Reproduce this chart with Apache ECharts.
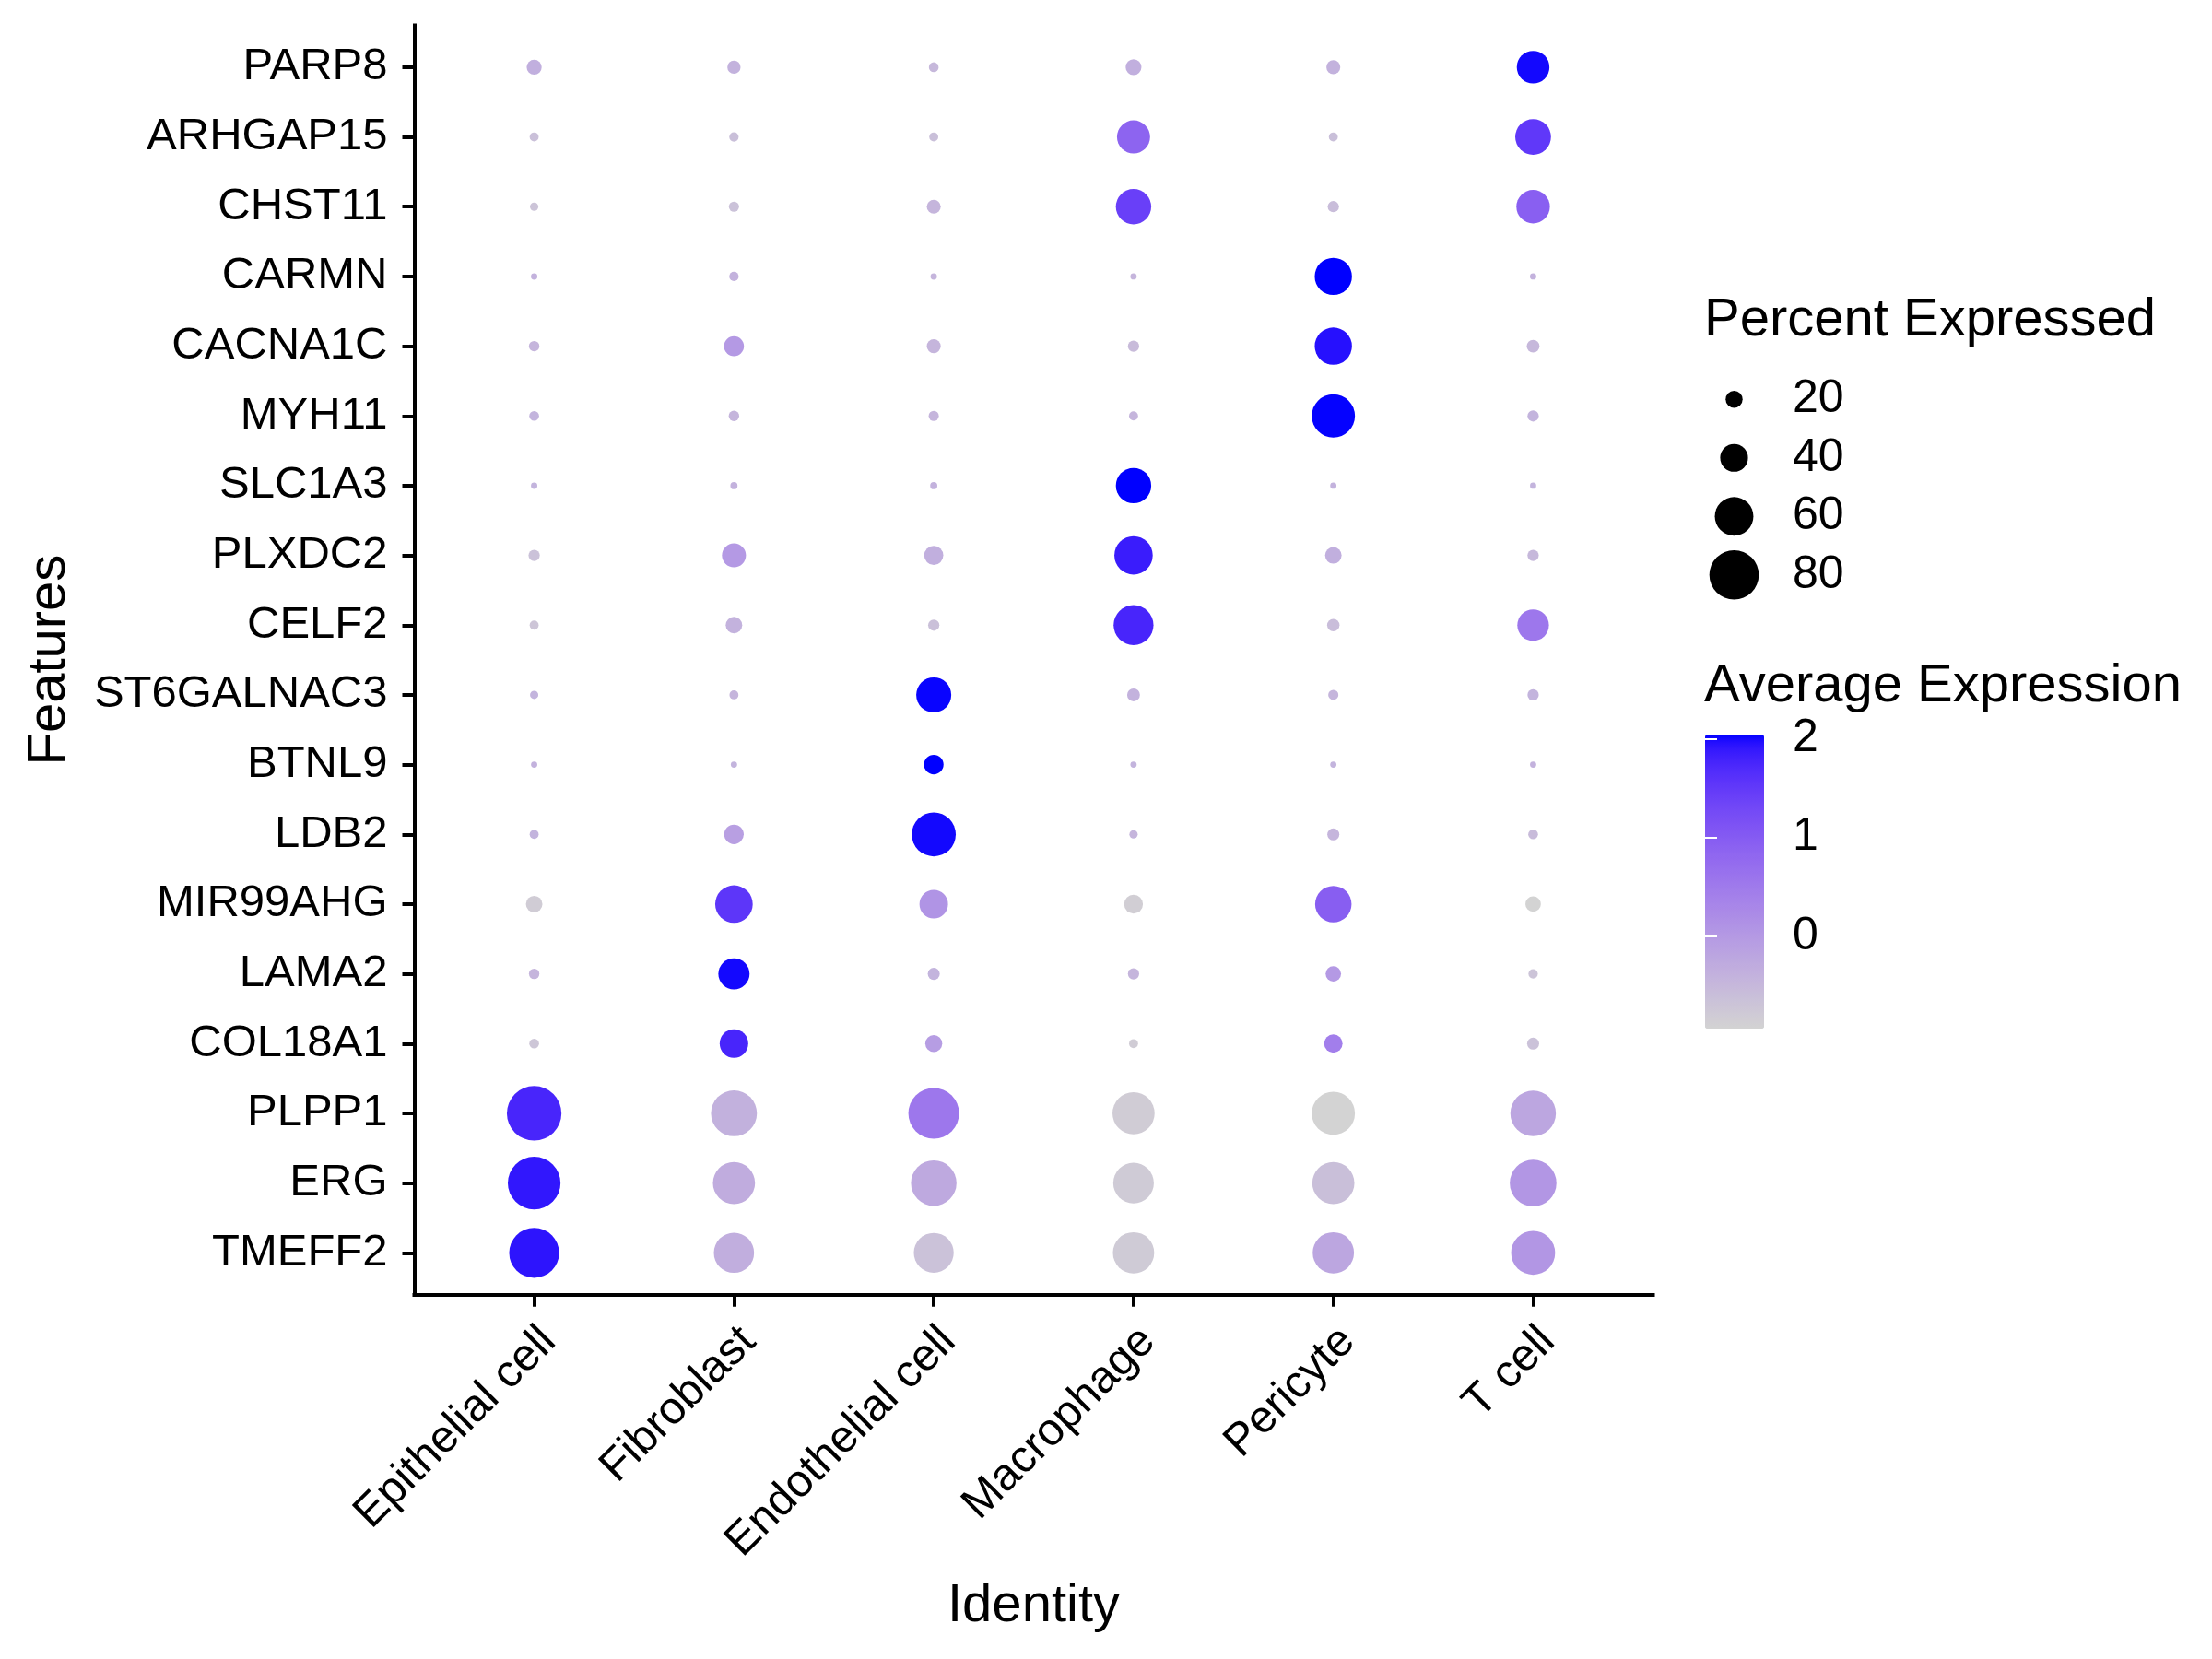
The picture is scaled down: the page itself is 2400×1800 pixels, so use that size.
<!DOCTYPE html>
<html>
<head>
<meta charset="utf-8">
<script src="https://cdn.jsdelivr.net/npm/echarts@6/dist/echarts.min.js"></script>
<style>html,body{margin:0;padding:0;background:#fff}#c{width:2400px;height:1800px}</style>
</head>
<body>
<div id="c"></div>
<script>
// ---------------- data ----------------
const cellTypes = ['Epithelial cell', 'Fibroblast', 'Endothelial cell', 'Macrophage', 'Pericyte', 'T cell'];
const genes = ['PARP8', 'ARHGAP15', 'CHST11', 'CARMN', 'CACNA1C', 'MYH11', 'SLC1A3', 'PLXDC2', 'CELF2',
  'ST6GALNAC3', 'BTNL9', 'LDB2', 'MIR99AHG', 'LAMA2', 'COL18A1', 'PLPP1', 'ERG', 'TMEFF2'];
// percent expressed, one row per gene, columns follow cellTypes
const pctExpressed = [
  [16.4, 13.0, 6.7, 17.8, 14.4, 49.0],
  [5.3, 6.0, 5.3, 49.8, 5.3, 54.7],
  [4.0, 7.4, 14.4, 54.0, 9.5, 50.5],
  [0.5, 6.0, 0.5, 0.3, 57.5, 0.3],
  [8.0, 25.5, 14.4, 9.5, 57.5, 12.3],
  [6.7, 8.0, 7.4, 5.3, 68.5, 9.5],
  [0.5, 1.9, 1.9, 54.0, 0.2, 0.2],
  [9.5, 33.0, 24.0, 59.6, 19.2, 9.5],
  [5.3, 19.2, 9.5, 62.4, 11.6, 47.0],
  [4.0, 5.3, 53.4, 12.3, 7.4, 9.5],
  [0.3, 0.3, 24.8, 0.3, 0.2, 0.2],
  [5.3, 24.8, 70.0, 4.0, 10.9, 6.7],
  [19.2, 58.0, 41.4, 23.4, 56.0, 17.2],
  [8.0, 46.4, 10.9, 9.5, 17.2, 6.0],
  [6.7, 41.4, 20.0, 5.3, 22.7, 10.9],
  [89.5, 73.5, 82.5, 66.5, 68.5, 72.8],
  [86.0, 66.5, 72.8, 63.7, 66.5, 74.9],
  [81.0, 63.0, 62.4, 65.0, 65.0, 70.0]
];
// scaled average expression, same layout
const avgExpScaled = [
  [-0.35, -0.40, -0.50, -0.35, -0.40, 2.00],
  [-0.62, -0.60, -0.60, 0.87, -0.60, 1.52],
  [-0.68, -0.65, -0.45, 1.42, -0.58, 0.94],
  [-0.40, -0.40, -0.45, -0.45, 2.04, -0.40],
  [-0.45, 0.00, -0.45, -0.55, 1.95, -0.50],
  [-0.42, -0.45, -0.45, -0.45, 2.03, -0.42],
  [-0.42, -0.40, -0.40, 2.04, -0.40, -0.42],
  [-0.65, 0.00, -0.35, 1.85, -0.35, -0.50],
  [-0.70, -0.40, -0.62, 1.75, -0.58, 0.55],
  [-0.42, -0.45, 2.02, -0.40, -0.45, -0.42],
  [-0.40, -0.42, 2.04, -0.42, -0.42, -0.40],
  [-0.42, -0.10, 2.00, -0.45, -0.45, -0.55],
  [-0.82, 1.55, 0.10, -0.85, 0.95, -0.93],
  [-0.45, 2.00, -0.42, -0.45, 0.00, -0.68],
  [-0.72, 1.75, -0.05, -0.82, 0.45, -0.65],
  [1.75, -0.38, 0.55, -0.82, -0.93, -0.20],
  [1.90, -0.30, -0.25, -0.80, -0.60, 0.05],
  [1.92, -0.33, -0.65, -0.80, -0.20, 0.06]
];
const sizeLegendValues = [20, 40, 60, 80];
const colorTicks = [0, 1, 2];
const colorLimits = [-0.93, 2.04];

// ---------------- styling helpers ----------------
const FONT = "'Liberation Sans', Arial, sans-serif";
function dotSize(pct) { return 6.67 + 0.587 * pct; }

// CIELAB interpolation lightgrey -> blue (as ggplot's gradient)
function s2l(c) { c /= 255; return c <= 0.04045 ? c / 12.92 : Math.pow((c + 0.055) / 1.055, 2.4); }
function l2s(c) { c = c <= 0.0031308 ? 12.92 * c : 1.055 * Math.pow(c, 1 / 2.4) - 0.055; return Math.round(Math.max(0, Math.min(1, c)) * 255); }
const WN = [0.95047, 1, 1.08883];
function rgb2lab(rgb) {
  const [r, g, b] = rgb.map(s2l);
  const X = 0.4124 * r + 0.3576 * g + 0.1805 * b;
  const Y = 0.2126 * r + 0.7152 * g + 0.0722 * b;
  const Z = 0.0193 * r + 0.1192 * g + 0.9505 * b;
  const f = t => t > 0.008856 ? Math.cbrt(t) : 7.787 * t + 16 / 116;
  const fx = f(X / WN[0]), fy = f(Y / WN[1]), fz = f(Z / WN[2]);
  return [116 * fy - 16, 500 * (fx - fy), 200 * (fy - fz)];
}
function lab2rgb(lab) {
  const fy = (lab[0] + 16) / 116, fx = fy + lab[1] / 500, fz = fy - lab[2] / 200;
  const fi = t => t > 0.206893 ? t * t * t : (t - 16 / 116) / 7.787;
  const X = WN[0] * fi(fx), Y = WN[1] * fi(fy), Z = WN[2] * fi(fz);
  const r = 3.2406 * X - 1.5372 * Y - 0.4986 * Z;
  const g = -0.9689 * X + 1.8758 * Y + 0.0415 * Z;
  const b = 0.0557 * X - 0.2040 * Y + 1.0570 * Z;
  return 'rgb(' + l2s(r) + ',' + l2s(g) + ',' + l2s(b) + ')';
}
const labLow = rgb2lab([211, 211, 211]), labHigh = rgb2lab([0, 0, 255]);
const gradientStops = [];
for (let k = 0; k <= 40; k++) {
  const t = k / 40;
  gradientStops.push(lab2rgb(labLow.map((v, i) => v + (labHigh[i] - v) * t)));
}

// ---------------- build series data ----------------
const dotData = [];
genes.forEach((g, i) => {
  cellTypes.forEach((c, j) => {
    dotData.push([j, i, pctExpressed[i][j], avgExpScaled[i][j]]);
  });
});
const sizeLegendData = sizeLegendValues.map((v, i) => [0, i, v]);
const idx = n => Array.from({ length: n }, (_, i) => i);

const chart = echarts.init(document.getElementById('c'), null, { renderer: 'canvas' });
const txt = { color: '#000', fontFamily: FONT };

chart.setOption({
  animation: false,
  backgroundColor: '#fff',
  textStyle: { fontFamily: FONT },
  title: [
    { text: 'Percent Expressed', left: 1849, top: 319, padding: 0,
      textStyle: Object.assign({ fontSize: 58, fontWeight: 'normal' }, txt) },
    { text: 'Average Expression', left: 1849, top: 716, padding: 0,
      textStyle: Object.assign({ fontSize: 58, fontWeight: 'normal' }, txt) }
  ],
  grid: [
    { left: 449.5, top: 27.5, width: 1344, height: 1377.2 },
    { left: 1850, top: 401.5, width: 63, height: 254 },
    { left: 1850, top: 797, width: 64, height: 319 }
  ],
  xAxis: [
    {
      gridIndex: 0, type: 'value', min: -0.6, max: 5.6,
      splitLine: { show: false },
      axisLine: { show: true, onZero: false, lineStyle: { color: '#000', width: 4, cap: 'square' } },
      axisTick: { show: true, customValues: idx(cellTypes.length), length: 13, lineStyle: { color: '#000', width: 4 } },
      axisLabel: {
        customValues: idx(cellTypes.length),
        formatter: v => cellTypes[Math.round(v)],
        rotate: 45, align: 'right', verticalAlign: 'top', margin: 9, padding: [11, 13, 0, 0],
        fontSize: 49, color: '#000', fontFamily: FONT
      },
      name: 'Identity', nameLocation: 'middle', nameGap: 309,
      nameTextStyle: { fontSize: 58, color: '#000', fontFamily: FONT }
    },
    { gridIndex: 1, type: 'value', min: -1, max: 1, show: false },
    { gridIndex: 2, type: 'value', min: 0, max: 1, show: false }
  ],
  yAxis: [
    {
      gridIndex: 0, type: 'value', min: -0.6, max: 17.6, inverse: true,
      splitLine: { show: false },
      axisLine: { show: true, onZero: false, lineStyle: { color: '#000', width: 4, cap: 'square' } },
      axisTick: { show: true, customValues: idx(genes.length), length: 13, lineStyle: { color: '#000', width: 4 } },
      axisLabel: {
        customValues: idx(genes.length),
        formatter: v => genes[Math.round(v)],
        margin: 29, padding: [4, 0, 0, 0], fontSize: 49, color: '#000', fontFamily: FONT
      },
      name: 'Features', nameLocation: 'middle', nameGap: 367,
      nameTextStyle: { fontSize: 58, color: '#000', fontFamily: FONT }
    },
    {
      gridIndex: 1, type: 'category', inverse: true, position: 'right',
      data: sizeLegendValues.map(String),
      axisLine: { show: false }, axisTick: { show: false }, splitLine: { show: false },
      axisLabel: { interval: 0, margin: 32, padding: [7, 0, 0, 0], fontSize: 50, color: '#000', fontFamily: FONT, align: 'left' }
    },
    {
      gridIndex: 2, type: 'value', min: colorLimits[0], max: colorLimits[1], position: 'right', z: 10,
      axisLine: { show: false }, splitLine: { show: false },
      axisTick: { show: true, inside: true, customValues: colorTicks, length: 13, lineStyle: { color: '#fff', width: 2 } },
      axisLabel: { customValues: colorTicks, margin: 31, padding: [7, 0, 0, 0], fontSize: 50, color: '#000', fontFamily: FONT, align: 'left' }
    },
    {
      gridIndex: 2, type: 'value', min: colorLimits[0], max: colorLimits[1], position: 'left', z: 10,
      axisLine: { show: false }, splitLine: { show: false },
      axisTick: { show: true, inside: true, customValues: colorTicks, length: 13, lineStyle: { color: '#fff', width: 2 } },
      axisLabel: { show: false }
    }
  ],
  visualMap: [{
    type: 'continuous', seriesIndex: 0, dimension: 3,
    min: colorLimits[0], max: colorLimits[1],
    inRange: { color: gradientStops },
    left: 1850, top: 797, itemWidth: 64, itemHeight: 319, padding: 0,
    calculable: false, hoverLink: false, text: null, showLabel: false
  }],
  series: [
    {
      type: 'scatter', xAxisIndex: 0, yAxisIndex: 0, data: dotData,
      symbol: 'circle', symbolSize: v => dotSize(v[2]),
      itemStyle: { opacity: 1 }, silent: true
    },
    {
      type: 'scatter', xAxisIndex: 1, yAxisIndex: 1, data: sizeLegendData,
      symbol: 'circle', symbolSize: v => dotSize(v[2]),
      itemStyle: { color: '#000', opacity: 1 }, silent: true
    }
  ]
});
</script>
</body>
</html>
